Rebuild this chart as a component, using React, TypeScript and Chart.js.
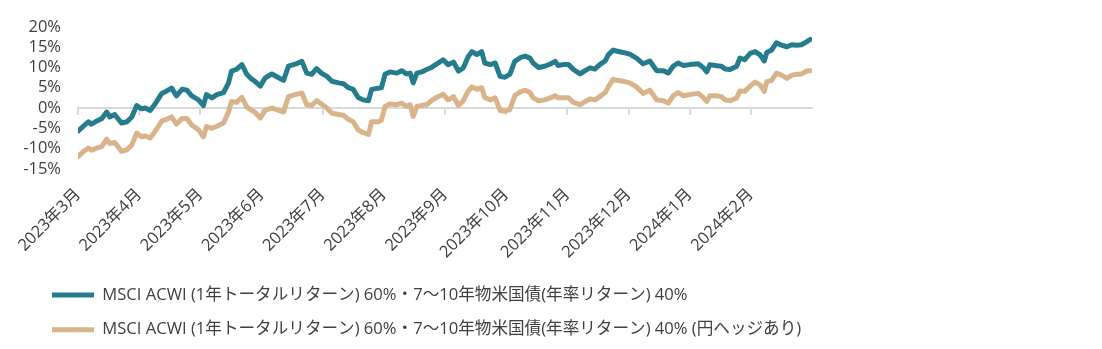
import React, { useEffect, useRef } from "react";
import { Chart, registerables } from "chart.js";

Chart.register(...registerables);

// x positions in months since 2023-03-01 (0 = 2023年3月, 12 = 2024年3月)
const monthPos = [
  0.0, 0.09, 0.17, 0.22, 0.31, 0.39, 0.47, 0.52, 0.6, 0.71,
  0.8, 0.88, 0.96, 1.04, 1.1, 1.18, 1.26, 1.37, 1.45, 1.53,
  1.61, 1.7, 1.78, 1.86, 1.97, 2.05, 2.1, 2.19, 2.27, 2.38,
  2.46, 2.51, 2.59, 2.68, 2.76, 2.84,
  2.89, 2.98, 3.06, 3.17, 3.25, 3.36, 3.44, 3.55, 3.66, 3.74,
  3.82, 3.9, 3.98, 4.07, 4.15, 4.26, 4.34, 4.42, 4.5, 4.58,
  4.66, 4.75, 4.8, 4.91, 4.96, 5.02, 5.1, 5.21, 5.29, 5.37,
  5.43, 5.48, 5.54, 5.62, 5.7, 5.78,
  5.86, 5.97, 6.05, 6.14, 6.22, 6.3, 6.38, 6.44, 6.52, 6.6,
  6.65, 6.74, 6.82, 6.9, 6.98, 7.06, 7.14, 7.23, 7.31, 7.39,
  7.44, 7.53, 7.63, 7.72, 7.8, 7.85, 7.93, 8.02, 8.1, 8.21,
  8.29, 8.37, 8.45, 8.53, 8.62, 8.67, 8.75,
  8.78, 8.91, 9.02, 9.13, 9.24, 9.35, 9.46, 9.57, 9.65, 9.73,
  9.81, 9.9, 10.0, 10.14, 10.22, 10.28, 10.33, 10.44, 10.52, 10.58,
  10.66, 10.77, 10.82, 10.9, 10.99, 11.07, 11.15, 11.22, 11.26, 11.34,
  11.42, 11.5, 11.59, 11.67, 11.75, 11.83, 11.91, 11.97,
];

const unhedged = [
  -5.7, -4.5, -3.4, -4.0, -3.2, -2.6, -1.0, -2.2, -1.6, -3.7,
  -3.4, -2.2, 0.6, -0.2, 0.0, -0.6, 1.0, 3.6, 4.2, 4.9,
  3.0, 4.6, 4.4, 3.0, 2.0, 0.6, 3.3, 2.5, 3.3, 3.8,
  6.2, 9.1, 9.5, 10.7, 8.3, 7.1,
  6.6, 5.4, 7.4, 8.4, 7.7, 6.8, 10.3, 10.8, 11.5, 8.6,
  8.3, 9.7, 8.6, 7.8, 6.6, 6.2, 6.0, 5.0, 4.6, 2.6,
  2.0, 1.8, 4.6, 4.9, 5.0, 8.3, 8.9, 8.6, 9.2, 8.4,
  8.6, 6.2, 8.6, 8.9, 9.5, 10.0,
  10.8, 11.9, 10.7, 11.3, 9.1, 9.9, 12.7, 13.9, 13.2, 13.9,
  11.1, 10.7, 11.1, 7.8, 7.6, 8.3, 11.5, 12.4, 12.8, 12.3,
  11.1, 10.0, 10.3, 10.8, 11.5, 10.5, 10.7, 10.7, 9.5, 8.4,
  9.2, 9.9, 9.6, 10.7, 11.6, 13.1, 14.3,
  14.1, 13.7, 13.3, 12.3, 10.9, 11.6, 9.2, 9.2, 8.6, 10.3,
  11.1, 10.5, 10.7, 10.9, 10.0, 8.9, 10.7, 10.4, 10.3, 9.6,
  9.5, 10.3, 12.3, 11.9, 13.5, 13.9, 13.1, 11.6, 13.7, 14.3,
  16.1, 15.5, 15.1, 15.6, 15.5, 15.6, 16.3, 16.9,
];

const hedged = [
  -12.0, -10.7, -9.9, -10.4, -9.9, -9.5, -7.7, -8.8, -8.5, -10.7,
  -10.3, -9.1, -6.2, -7.1, -6.9, -7.4, -5.8, -3.2, -2.8, -2.2,
  -4.0, -2.6, -2.6, -4.2, -5.4, -7.1, -4.6, -5.0, -4.5, -3.7,
  -1.0, 1.6, 1.4, 2.6, 0.2, -0.6,
  -1.0, -2.5, -0.6, 0.0, -0.4, -1.0, 2.8, 3.3, 3.7, 0.8,
  0.6, 1.8, 1.0, 0.0, -1.3, -1.6, -1.8, -2.8, -3.4, -5.4,
  -6.1, -6.5, -3.4, -3.4, -3.0, 0.4, 1.0, 0.8, 1.2, 0.4,
  0.8, -2.1, 0.4, 0.6, 0.8, 1.8,
  2.6, 3.4, 2.0, 2.8, 0.6, 1.8, 4.2, 5.2, 4.6, 5.0,
  2.6, 2.0, 2.5, -0.6, -0.8, -0.4, 3.0, 4.0, 4.4, 3.8,
  2.5, 1.8, 2.0, 2.5, 3.0, 2.5, 2.5, 2.5, 1.4, 0.8,
  1.6, 2.2, 2.0, 2.8, 3.8, 5.2, 7.1,
  6.9, 6.6, 6.2, 5.2, 3.6, 4.4, 2.0, 1.8, 1.2, 3.0,
  3.8, 3.0, 3.3, 3.6, 2.6, 1.6, 3.0, 3.0, 2.8, 2.0,
  1.8, 2.5, 4.2, 4.1, 5.4, 6.4, 5.7, 4.1, 6.5, 6.8,
  8.6, 8.1, 7.3, 8.1, 8.3, 8.4, 9.1, 9.2,
];

const monthLabels = [
  "2023年3月", "2023年4月", "2023年5月", "2023年6月", "2023年7月", "2023年8月",
  "2023年9月", "2023年10月", "2023年11月", "2023年12月", "2024年1月", "2024年2月",
];

const seriesNames = [
  "MSCI ACWI (1年トータルリターン) 60%・7～10年物米国債(年率リターン) 40%",
  "MSCI ACWI (1年トータルリターン) 60%・7～10年物米国債(年率リターン) 40% (円ヘッジあり)",
];

const seriesColors = ["#247C8C", "#D9B48A"];

const FONT = "'Open Sans', 'Noto Sans CJK JP', sans-serif";
const TEXT = "#404040";
const AXIS = "#D9D9D9";

// lets the y tick labels extend left of the axis box without being clipped
const unclipYLabels = {
  id: "unclipYLabels",
  afterLayout(chart: any) {
    const y = chart.scales.y;
    if (y) y.left = 0;
  },
};

export default function App() {
  const ref = useRef<HTMLCanvasElement | null>(null);

  useEffect(() => {
    document.body.style.margin = "0";
    const canvas = ref.current;
    if (!canvas) return;
    const toPts = (vals: number[]) => vals.map((v, i) => ({ x: monthPos[i], y: v }));
    const dropLast = (scale: any) => {
      scale.ticks = scale.ticks.filter((t: any) => t.value < monthLabels.length);
    };
    const chart = new Chart(canvas, {
      type: "line",
      data: {
        datasets: [unhedged, hedged].map((vals, i) => ({
          label: seriesNames[i],
          data: toPts(vals),
          borderColor: seriesColors[i],
          backgroundColor: seriesColors[i],
          borderWidth: 5,
          pointRadius: 0,
          tension: 0,
          borderCapStyle: "round" as const,
          borderJoinStyle: "round" as const,
          fill: false,
        })),
      },
      plugins: [unclipYLabels],
      options: {
        animation: false,
        responsive: false,
        events: [],
        layout: { padding: { left: 34, right: 290, top: 25, bottom: 1 } },
        plugins: {
          tooltip: { enabled: false },
          legend: {
            position: "bottom",
            align: "start",
            labels: {
              usePointStyle: true,
              pointStyle: "line",
              pointStyleWidth: 42,
              padding: 18,
              color: TEXT,
              font: { family: FONT, size: 16.6 },
            },
          },
        },
        scales: {
          x: {
            type: "linear",
            min: 0,
            max: 12,
            position: "bottom",
            grid: { display: false, drawTicks: false },
            border: { display: false },
            afterBuildTicks: dropLast,
            afterFit: (s: any) => { s.height = 100; },
            ticks: {
              stepSize: 1,
              autoSkip: false,
              minRotation: 45,
              maxRotation: 45,
              padding: 16,
              color: TEXT,
              font: { family: FONT, size: 16.5 },
              callback: (v: any) => monthLabels[Math.round(Number(v))] ?? "",
            },
          },
          x2: {
            type: "linear",
            axis: "x",
            min: 0,
            max: 12,
            position: { y: 0 },
            afterBuildTicks: dropLast,
            grid: {
              display: true,
              drawOnChartArea: false,
              drawTicks: true,
              tickLength: 6,
              color: AXIS,
              lineWidth: 2,
            },
            border: { display: true, color: AXIS, width: 2 },
            ticks: { stepSize: 1, display: false },
          },
          y: {
            min: -15,
            max: 20,
            position: "left",
            grid: { display: false, drawTicks: false },
            border: { display: false },
            afterFit: (s: any) => { s.width = 44; },
            ticks: {
              stepSize: 5,
              autoSkip: false,
              padding: 17,
              color: TEXT,
              font: { family: FONT, size: 16.5 },
              callback: (v: any) => `${v}%`,
            },
          },
        },
      } as any,
    });
    return () => chart.destroy();
  }, []);

  return (
    <div style={{ width: 1102, height: 349, background: "#fff" }}>
      <canvas ref={ref} width={1102} height={349} />
    </div>
  );
}
